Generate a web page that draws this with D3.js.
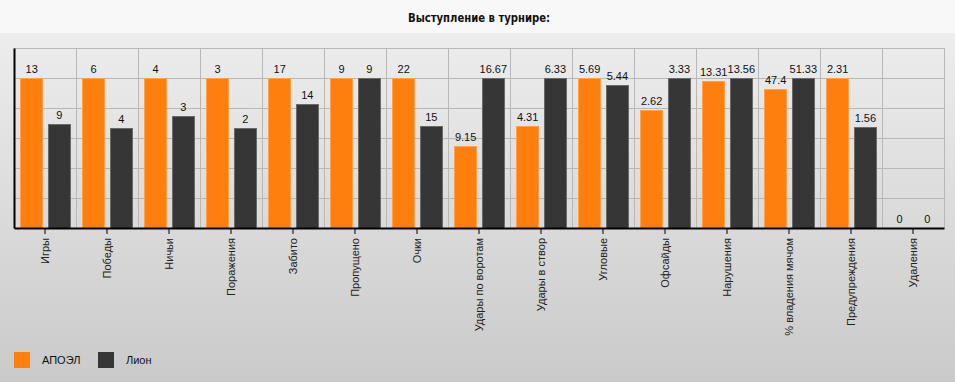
<!DOCTYPE html>
<html>
<head>
<meta charset="utf-8">
<script src="https://cdn.jsdelivr.net/npm/d3@7"></script>
<style>
  body { margin: 0; padding: 0; }
  svg { display: block; font-family: "Liberation Sans", Arial, sans-serif; }
</style>
</head>
<body>
<svg width="955" height="382"></svg>
<script>
var categories = ["Игры", "Победы", "Ничьи", "Поражения", "Забито", "Пропущено", "Очки",
  "Удары по воротам", "Удары в створ", "Угловые", "Офсайды", "Нарушения",
  "% владения мячом", "Предупреждения", "Удаления"];
var teams = ["АПОЭЛ", "Лион"];
var apoel = [13, 6, 4, 3, 17, 9, 22, 9.15, 4.31, 5.69, 2.62, 13.31, 47.4, 2.31, 0];
var lyon = [9, 4, 3, 2, 14, 9, 15, 16.67, 6.33, 5.44, 3.33, 13.56, 51.33, 1.56, 0];
var colors = ["#ff7f0e", "#363636"];
var strokes = ["#ffa04a", "#6a6a6a"];
var yTicks = [0.2, 0.4, 0.6, 0.8, 1.0, 1.2];

var svg = d3.select("svg");
var W = 955, H = 382;

// backgrounds
var defs = svg.append("defs");
var grad = defs.append("linearGradient").attr("id", "bg")
  .attr("x1", 0).attr("y1", 0).attr("x2", 0).attr("y2", 1);
grad.append("stop").attr("offset", "0%").attr("stop-color", "#ededed");
grad.append("stop").attr("offset", "100%").attr("stop-color", "#cacaca");

svg.append("rect").attr("width", W).attr("height", 33).attr("fill", "#f8f8f8");
svg.append("rect").attr("y", 33).attr("width", W).attr("height", H - 33).attr("fill", "url(#bg)");

// title, squeezed to the narrow look of the original
svg.append("text")
  .attr("x", 408).attr("y", 22)
  .attr("textLength", 142).attr("lengthAdjust", "spacingAndGlyphs")
  .style("font-family", "'Liberation Sans Narrow', 'DejaVu Sans Condensed', sans-serif")
  .style("font-weight", "bold")
  .style("font-size", "13px")
  .attr("fill", "#111")
  .text("Выступление в турнире:");

var plotLeft = 14, plotRight = 944, plotTop = 48, plotBottom = 228;

var x = d3.scaleBand().domain(categories).range([plotLeft, plotRight]).paddingInner(0).paddingOuter(0);
var xs = d3.scaleBand().domain(teams).range([0, x.bandwidth()]).paddingInner(0.2).paddingOuter(0.22);
var y = d3.scaleLinear().domain([0, 1.2]).range([plotBottom, plotTop]);

// grid
var grid = svg.append("g").attr("stroke", "#b8b8b8").attr("stroke-width", 1);
grid.selectAll("line.h").data(yTicks).enter().append("line")
  .attr("x1", plotLeft).attr("x2", plotRight)
  .attr("y1", function(d) { return Math.round(y(d)) + 0.5; })
  .attr("y2", function(d) { return Math.round(y(d)) + 0.5; });
grid.selectAll("line.v").data(categories.slice(1).concat(["end"])).enter().append("line")
  .attr("x1", function(d) { return d === "end" ? plotRight + 0.5 : Math.round(x(d)) + 0.5; })
  .attr("x2", function(d) { return d === "end" ? plotRight + 0.5 : Math.round(x(d)) + 0.5; })
  .attr("y1", plotTop).attr("y2", plotBottom);

// data rows, each category scaled to its larger value
var rows = categories.map(function(c, i) {
  var vals = [apoel[i], lyon[i]];
  var m = Math.max(vals[0], vals[1]);
  return {
    cat: c,
    bars: vals.map(function(v, j) {
      return { team: teams[j], j: j, value: v, norm: m > 0 ? v / m : 0 };
    })
  };
});

var groups = svg.append("g").selectAll("g").data(rows).enter().append("g")
  .attr("transform", function(d) { return "translate(" + x(d.cat) + ",0)"; });

groups.selectAll("rect").data(function(d) { return d.bars.filter(function(b) { return b.norm > 0; }); })
  .enter().append("rect")
  .attr("x", function(b) { return Math.round(xs(b.team)) + 0.5; })
  .attr("y", function(b) { return Math.round(y(b.norm)) + 0.5; })
  .attr("width", Math.round(xs.bandwidth()))
  .attr("height", function(b) { return plotBottom - Math.round(y(b.norm)); })
  .attr("fill", function(b) { return colors[b.j]; })
  .attr("stroke", function(b) { return strokes[b.j]; })
  .attr("stroke-width", 1);

groups.selectAll("text").data(function(d) { return d.bars; })
  .enter().append("text")
  .attr("x", function(b) { return xs(b.team) + xs.bandwidth() / 2 + 0.5; })
  .attr("y", function(b) { return y(b.norm) - 5; })
  .attr("text-anchor", "middle")
  .style("font-size", "11px")
  .attr("fill", "#111")
  .text(function(b) { return String(b.value); });

// axes
var xAxis = d3.axisBottom(x).tickSize(6).tickSizeOuter(0);
var gx = svg.append("g").attr("transform", "translate(0," + plotBottom + ")").call(xAxis);
gx.select(".domain").attr("stroke", "#000").attr("stroke-width", 2);
gx.selectAll(".tick line").attr("stroke", "#000");
gx.selectAll(".tick text")
  .attr("transform", "rotate(-90)")
  .attr("text-anchor", "end")
  .attr("x", -10).attr("y", 0).attr("dy", "0.35em")
  .style("font-size", "11px")
  .style("font-family", "'Liberation Sans', Arial, sans-serif")
  .attr("fill", "#222");

var yAxis = d3.axisLeft(y).tickValues([]).tickSize(0).tickSizeOuter(0);
var gy = svg.append("g").attr("transform", "translate(" + plotLeft + ",0)").call(yAxis);
gy.select(".domain").attr("stroke", "#000").attr("stroke-width", 2);

// legend
var legend = svg.append("g").selectAll("g").data(teams).enter().append("g")
  .attr("transform", function(d, i) { return "translate(" + (14 + i * 84) + ",352)"; });
legend.append("rect").attr("width", 16).attr("height", 16)
  .attr("fill", function(d, i) { return colors[i]; });
legend.append("text").attr("x", 28).attr("y", 12)
  .style("font-size", "11px").attr("fill", "#111")
  .text(function(d) { return d; });
</script>
</body>
</html>
